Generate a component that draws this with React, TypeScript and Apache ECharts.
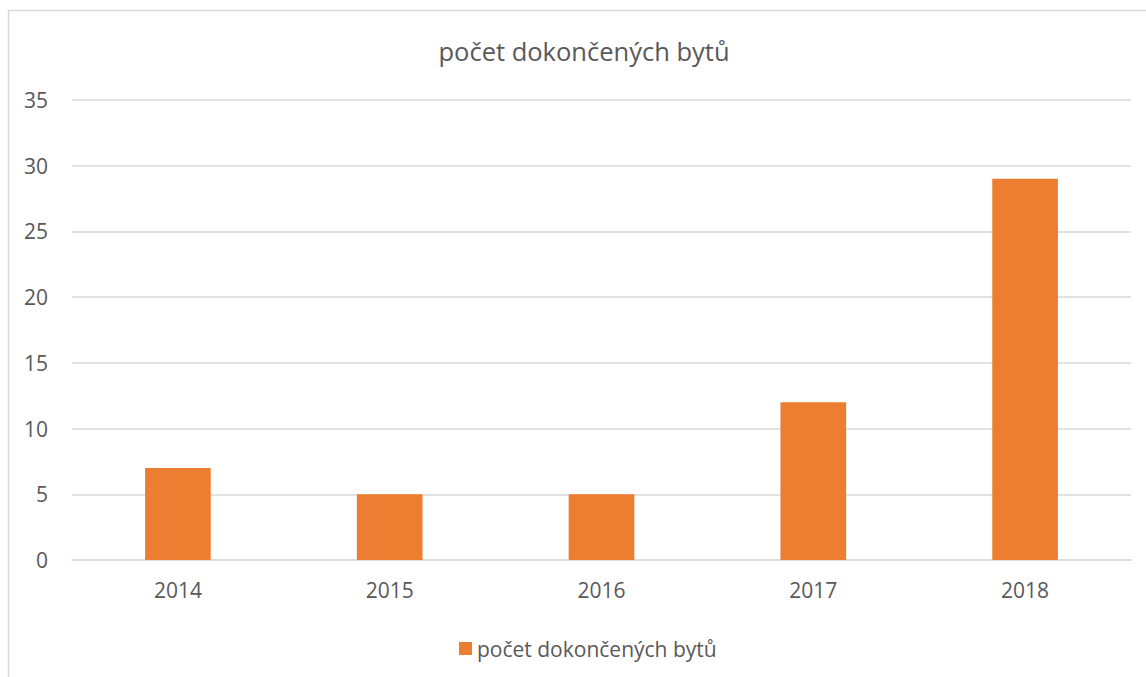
import React, { useEffect, useRef } from "react";
import * as echarts from "echarts";

const categories = ["2014", "2015", "2016", "2017", "2018"];
const values = [7, 5, 5, 12, 29];
const seriesName = "počet dokončených bytů";
const titleText = "počet dokončených bytů";

const FONT = "'Open Sans', Lato, sans-serif";
const TXT = "#595959";

export default function App() {
  const ref = useRef<HTMLDivElement>(null);
  useEffect(() => {
    document.body.style.margin = "0";
    const chart = echarts.init(ref.current!, null, { renderer: "svg" });
    chart.setOption({
      animation: false,
      textStyle: { fontFamily: FONT },
      graphic: [
        {
          type: "rect",
          shape: { x: 8.5, y: 10.5, width: 1200, height: 700 },
          style: { fill: "none", stroke: "#d9d9d9", lineWidth: 1.5 },
          silent: true,
        },
      ],
      title: {
        text: titleText,
        left: 579,
        textAlign: "center",
        top: 33,
        textStyle: { fontFamily: FONT, fontSize: 25.5, fontWeight: "normal", color: TXT },
      },
      legend: {
        data: [seriesName],
        left: 454,
        top: 633,
        itemWidth: 13,
        itemHeight: 13,
        itemGap: 5,
        icon: "rect",
        textStyle: { fontFamily: FONT, fontSize: 21, color: TXT, padding: [0, 0, 0, 0] },
      },
      grid: { left: 72, right: 15, top: 100, bottom: 117, containLabel: false },
      xAxis: {
        type: "category",
        data: categories,
        axisLine: { lineStyle: { color: "#d9d9d9", width: 1.5 } },
        axisTick: { show: false },
        axisLabel: { color: TXT, fontFamily: FONT, fontSize: 21, margin: 19 },
      },
      yAxis: {
        type: "value",
        min: 0,
        max: 35,
        interval: 5,
        axisLine: { show: false },
        axisTick: { show: false },
        splitLine: { lineStyle: { color: "#d9d9d9", width: 1.5 } },
        axisLabel: { color: TXT, fontFamily: FONT, fontSize: 21, margin: 24 },
      },
      series: [
        {
          name: seriesName,
          type: "bar",
          data: values,
          barWidth: "31%",
          itemStyle: { color: "#ED7D31" },
        },
      ],
    });
    return () => chart.dispose();
  }, []);
  return <div ref={ref} style={{ position: "absolute", left: 0, top: 0, width: 1146, height: 677 }} />;
}
